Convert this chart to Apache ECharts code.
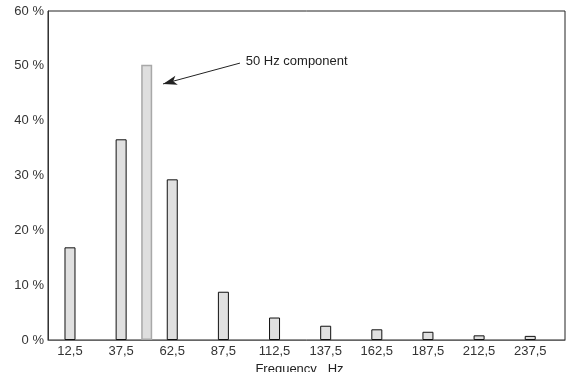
<!DOCTYPE html>
<html>
<head>
<meta charset="utf-8">
<script src="https://cdn.jsdelivr.net/npm/echarts@6/dist/echarts.min.js"></script>
<style>html,body{margin:0;padding:0;background:#fff;}#c{width:566px;height:372px;}</style>
</head>
<body>
<div id="c"></div>
<script>
var freqs = [12.5, 37.5, 50, 62.5, 87.5, 112.5, 137.5, 162.5, 187.5, 212.5, 237.5];
var percents = [16.9, 36.6, 50.2, 29.3, 8.8, 4.1, 2.6, 1.95, 1.5, 0.85, 0.75];
var xTickLabels = [12.5, 37.5, 62.5, 87.5, 112.5, 137.5, 162.5, 187.5, 212.5, 237.5];
var yTicks = [0, 10, 20, 30, 40, 50, 60];
var highlightFreq = 50;
var annotationText = '50 Hz component';
var arrowFrom = [95.6, 50.5];
var arrowTo = [58, 46.7];

var data = freqs.map(function (f, i) {
  var hl = f === highlightFreq;
  return {
    value: [f, percents[i]],
    itemStyle: hl ? { color: '#dedede', borderColor: '#a8a8a8', borderWidth: 1.5 } : undefined
  };
});

var chart = echarts.init(document.getElementById('c'));
chart.setOption({
  animation: false,
  grid: { left: 48, right: 1, top: 11, bottom: 32, outerBoundsMode: 'none', containLabel: false,
          show: true, borderColor: '#222', borderWidth: 1 },
  xAxis: {
    type: 'value', min: 1.75, max: 254.5,
    axisLine: { show: true, lineStyle: { color: '#666', width: 1 } },
    axisTick: { show: false },
    splitLine: { show: false },
    axisLabel: {
      customValues: xTickLabels,
      formatter: function (v) { return String(v).replace('.', ','); },
      color: '#333', fontFamily: 'Liberation Sans', fontSize: 13, margin: 5
    },
    name: 'Frequency   Hz', nameLocation: 'middle', nameGap: 21,
    nameTextStyle: { color: '#222', fontFamily: 'Liberation Sans', fontSize: 13, padding: [0, 14, 0, 0] }
  },
  yAxis: {
    type: 'value', min: 0, max: 60, interval: 10,
    axisLine: { show: true, lineStyle: { color: '#333', width: 1 } },
    axisTick: { show: false },
    splitLine: { show: false },
    axisLabel: {
      formatter: '{value} %', color: '#333', fontFamily: 'Liberation Sans', fontSize: 13, margin: 4
    }
  },
  series: [{
    type: 'bar',
    data: data,
    barWidth: 11,
    itemStyle: { color: '#e0e0e0', borderColor: '#111', borderWidth: 1 },
    markLine: {
      silent: true,
      symbol: ['none', 'arrow'],
      symbolSize: [7, 14],
      lineStyle: { color: '#222', width: 1, type: 'solid' },
      label: {
        show: true, position: 'start', formatter: annotationText,
        color: '#222', fontFamily: 'Liberation Sans', fontSize: 13, distance: 6
      },
      data: [[{ coord: arrowFrom }, { coord: arrowTo }]]
    }
  }]
});
</script>
</body>
</html>
